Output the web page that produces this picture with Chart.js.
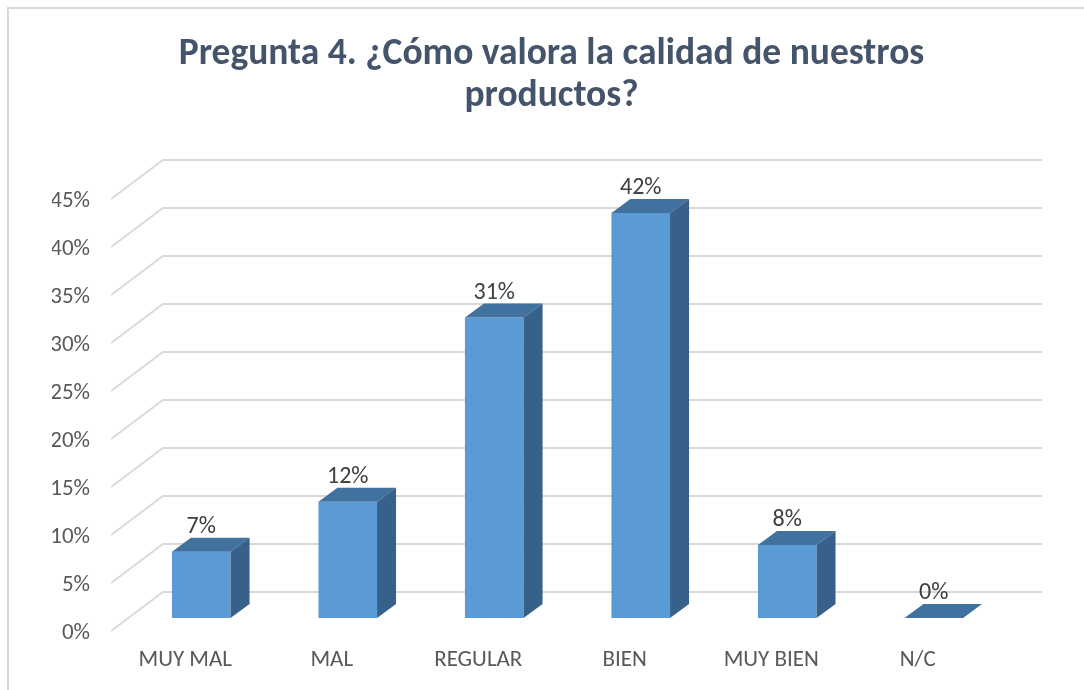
<!DOCTYPE html>
<html>
<head>
<meta charset="utf-8">
<script src="https://cdn.jsdelivr.net/npm/chart.js@4.4.1/dist/chart.umd.min.js"></script>
<style>
  html, body { margin: 0; padding: 0; background: #ffffff; }
  #wrap { position: absolute; left: 0; top: 0; width: 1084px; height: 690px; }
</style>
</head>
<body>
<div id="wrap"><canvas id="c" width="1084" height="690"></canvas></div>
<script>
// ---- data ----
const categories = ["MUY MAL", "MAL", "REGULAR", "BIEN", "MUY BIEN", "N/C"];
const values = [6.9, 12.1, 31.3, 42.2, 7.6, 0];
const titleLines = ["Pregunta 4. ¿Cómo valora la calidad de nuestros", "productos?"];
const yMin = 0, yMax = 45, yStep = 5;

// ---- style ----
const FONT = "Carlito, Lato, 'Open Sans', sans-serif";
const FRONT = "#5B9BD5", TOP = "#41719F", SIDE = "#37618A";
const GRID = "#D9D9D9";
const DEPTH = { dx: 19, dy: -14 };      // bar depth
const BACK = { dx: 35, dy: -26 };       // bar plane -> back wall
const FRONTP = { dx: -17, dy: 13 };     // bar plane -> front floor edge
const TITLE_SHIFT = 22;                 // title is centred on the whole frame

const framePlugin = {
  id: 'frame',
  beforeDraw(chart) {
    const ctx = chart.ctx;
    ctx.save();
    ctx.fillStyle = '#fff';
    ctx.fillRect(0, 0, chart.width, chart.height);
    ctx.strokeStyle = '#D9D9D9';
    ctx.lineWidth = 2;
    ctx.beginPath();
    ctx.moveTo(8, chart.height);
    ctx.lineTo(8, 8);
    ctx.lineTo(chart.width, 8);
    ctx.stroke();
    ctx.restore();
  }
};

const titleShift = {
  id: 'titleShift',
  afterLayout(chart) {
    const t = chart.titleBlock;
    if (t) { t.left += TITLE_SHIFT; t.right += TITLE_SHIFT; }
  }
};

const grid3d = {
  id: 'grid3d',
  beforeDatasetsDraw(chart) {
    const { ctx, chartArea, scales } = chart;
    const ys = scales.y;
    ctx.save();
    ctx.strokeStyle = GRID;
    ctx.lineWidth = 2;
    ys.ticks.forEach(t => {
      const y = ys.getPixelForValue(t.value);
      ctx.beginPath();
      ctx.moveTo(chartArea.left + FRONTP.dx, y + FRONTP.dy);
      ctx.lineTo(chartArea.left + BACK.dx, y + BACK.dy);
      ctx.lineTo(chartArea.right + BACK.dx, y + BACK.dy);
      ctx.stroke();
    });
    ctx.restore();
  }
};

const bars3d = {
  id: 'bars3d',
  afterDatasetsDraw(chart) {
    const ctx = chart.ctx;
    const meta = chart.getDatasetMeta(0);
    ctx.save();
    meta.data.forEach((bar, i) => {
      const p = bar.getProps(['x', 'y', 'base', 'width'], true);
      const l = p.x - p.width / 2, r = p.x + p.width / 2;
      const top = Math.min(p.y, p.base), bot = p.base;
      // top face
      ctx.fillStyle = TOP;
      ctx.beginPath();
      ctx.moveTo(l, top);
      ctx.lineTo(r, top);
      ctx.lineTo(r + DEPTH.dx, top + DEPTH.dy);
      ctx.lineTo(l + DEPTH.dx, top + DEPTH.dy);
      ctx.closePath();
      ctx.fill();
      // side face
      if (bot - top > 0.5) {
        ctx.fillStyle = SIDE;
        ctx.beginPath();
        ctx.moveTo(r, top);
        ctx.lineTo(r + DEPTH.dx, top + DEPTH.dy);
        ctx.lineTo(r + DEPTH.dx, bot + DEPTH.dy);
        ctx.lineTo(r, bot);
        ctx.closePath();
        ctx.fill();
      }
      // value label
      ctx.fillStyle = '#404040';
      ctx.font = "24px " + FONT;
      ctx.textAlign = 'center';
      ctx.textBaseline = 'alphabetic';
      ctx.fillText(Math.round(values[i]) + '%', p.x, top - 19);
    });
    ctx.restore();
  }
};

new Chart(document.getElementById('c'), {
  type: 'bar',
  data: {
    labels: categories,
    datasets: [{
      data: values,
      backgroundColor: FRONT,
      borderWidth: 0,
      categoryPercentage: 1.0,
      barPercentage: 0.4
    }]
  },
  plugins: [framePlugin, titleShift, grid3d, bars3d],
  options: {
    responsive: false,
    animation: false,
    layout: { padding: { left: 52, right: 77, top: 0, bottom: 0 } },
    plugins: {
      legend: { display: false },
      tooltip: { enabled: false },
      title: {
        display: true,
        text: titleLines,
        color: '#44546A',
        font: { family: FONT, size: 37.5, weight: 'bold', lineHeight: 1.12 },
        padding: { top: 34, bottom: 68 }
      }
    },
    scales: {
      x: {
        grid: { display: false, drawTicks: false },
        border: { display: false },
        ticks: {
          color: '#595959',
          font: { family: FONT, size: 23 },
          padding: 28,
          labelOffset: -16,
          maxRotation: 0,
          autoSkip: false
        },
        afterFit(s) { s.height = 72; }
      },
      y: {
        min: yMin, max: yMax,
        grid: { display: false, drawTicks: false },
        border: { display: false },
        ticks: {
          stepSize: yStep,
          color: '#595959',
          font: { family: FONT, size: 23 },
          padding: 38,
          labelOffset: 15,
          callback: v => v + '%'
        },
        afterFit(s) { s.width = 76; }
      }
    }
  }
});
</script>
</body>
</html>
